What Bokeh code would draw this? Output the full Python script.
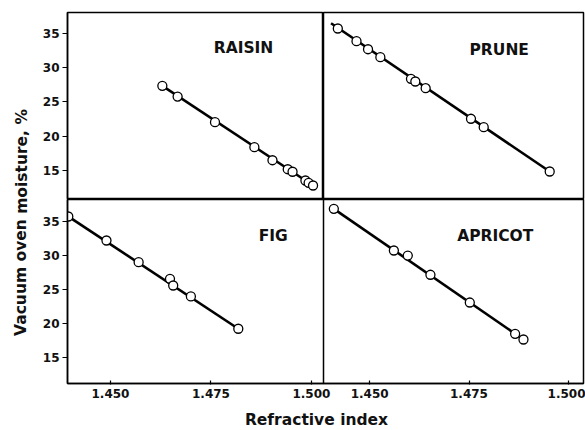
from bokeh.plotting import figure
from bokeh.layouts import row, column
from bokeh.models import Range1d, FixedTicker, NumeralTickFormatter, Label
from bokeh.embed import file_html
from bokeh.resources import INLINE

# ---------------- data ----------------
raisin_ri = [1.4629, 1.4667, 1.4760, 1.4858, 1.4903, 1.4941, 1.4953, 1.4985, 1.4993, 1.5004]
raisin_moist = [27.34, 25.78, 22.04, 18.40, 16.50, 15.19, 14.82, 13.55, 13.21, 12.82]
raisin_fit_ri = [1.4629, 1.5004]
raisin_fit_moist = [27.34, 12.82]

prune_ri = [1.4420, 1.4467, 1.4496, 1.4527, 1.4604, 1.4615, 1.4641, 1.4755, 1.4787, 1.4953]
prune_moist = [35.69, 33.84, 32.67, 31.51, 28.36, 27.97, 26.99, 22.54, 21.31, 14.86]
prune_fit_ri = [1.4403, 1.4953]
prune_fit_moist = [36.46, 14.86]

fig_ri = [1.4395, 1.4490, 1.4570, 1.4648, 1.4656, 1.4700, 1.4818]
fig_moist = [35.69, 32.16, 28.97, 26.53, 25.54, 23.93, 19.18]
fig_fit_ri = [1.4380, 1.4818]
fig_fit_moist = [36.28, 19.18]

apricot_ri = [1.4410, 1.4561, 1.4596, 1.4653, 1.4752, 1.4866, 1.4887]
apricot_moist = [36.82, 30.69, 29.95, 27.12, 23.04, 18.44, 17.60]
apricot_fit_ri = [1.4410, 1.4887]
apricot_fit_moist = [36.82, 17.60]

x_ticks = [1.450, 1.475, 1.500]
y_ticks = [15, 20, 25, 30, 35]

# panel limits
left_x = (1.4393, 1.5030)
right_x = (1.4384, 1.5038)
top_y = (10.78, 38.02)
bottom_y = (11.13, 38.19)

FONT = "DejaVu Sans"
INK = "#111111"


def style_axis(ax, is_x):
    ax.axis_line_color = "black"
    ax.axis_line_width = 1.5
    ax.major_tick_line_color = "black"
    ax.major_tick_line_width = 1.2
    ax.minor_tick_line_color = None
    ax.major_label_text_font = FONT
    ax.major_label_text_font_style = "bold"
    ax.major_label_text_font_size = "12px"
    ax.major_label_text_color = INK
    if is_x:
        ax.ticker = FixedTicker(ticks=x_ticks)
        ax.formatter = NumeralTickFormatter(format="0.000")
        ax.major_tick_in = 3
        ax.major_tick_out = 1
        ax.major_label_standoff = 4
    else:
        ax.ticker = FixedTicker(ticks=y_ticks)
        ax.major_tick_in = 0
        ax.major_tick_out = 5
        ax.major_label_standoff = 3


def panel(xlim, ylim, xs, ys, fx, fy, name, nx, ny, width, height, xaxis, yaxis,
          bl, br, bt, bb, transparent=False):
    p = figure(width=width, height=height, x_range=Range1d(*xlim), y_range=Range1d(*ylim),
               output_backend="svg", toolbar_location=None,
               x_axis_location="below" if xaxis else None,
               y_axis_location="left" if yaxis else None,
               min_border_left=bl, min_border_right=br, min_border_top=bt, min_border_bottom=bb)
    p.xgrid.visible = False
    p.ygrid.visible = False
    p.outline_line_color = "black"
    p.outline_line_width = 1.5
    p.background_fill_color = "white"
    if transparent:
        p.border_fill_alpha = 0.0
    else:
        p.border_fill_color = "white"
    if xaxis:
        style_axis(p.xaxis[0], True)
    if yaxis:
        style_axis(p.yaxis[0], False)
    p.line(fx, fy, line_color="black", line_width=2.6)
    p.scatter(xs, ys, marker="circle", size=9, fill_color="white",
              line_color="black", line_width=1.3)
    p.add_layout(Label(x=nx, y=ny, text=name, text_font=FONT, text_font_style="bold",
                       text_font_size="15.5px", text_align="center",
                       text_baseline="middle", text_color=INK))
    return p


TOP_H = 199      # 12 px border + 187 px frame
BOT_H = 204      # 184 px frame + 20 px axis
OVER = 12        # room for the "1.500" label of the left panel

p_raisin = panel(left_x, top_y, raisin_ri, raisin_moist, raisin_fit_ri, raisin_fit_moist,
                 "RAISIN", 1.4831, 32.92, 291, TOP_H, False, True, 35, 0, 12, 0)
p_prune = panel(right_x, top_y, prune_ri, prune_moist, prune_fit_ri, prune_fit_moist,
                "PRUNE", 1.4826, 32.63, 262, TOP_H, False, False, 0, 2, 12, 0)
p_fig = panel(left_x, bottom_y, fig_ri, fig_moist, fig_fit_ri, fig_fit_moist,
              "FIG", 1.4905, 32.75, 291 + OVER, BOT_H, True, True, 35, OVER, 0, 20)
p_apricot = panel(right_x, bottom_y, apricot_ri, apricot_moist, apricot_fit_ri, apricot_fit_moist,
                  "APRICOT", 1.4816, 32.75, 262, BOT_H, True, False, 0, 2, 0, 20, transparent=True)
p_apricot.margin = (0, 0, 0, -OVER)

# axis titles in their own strips (ranges in page pixels)
ylab = figure(width=32, height=430, x_range=Range1d(0, 32), y_range=Range1d(430, 0),
              output_backend="svg", toolbar_location=None,
              x_axis_location=None, y_axis_location=None,
              min_border_left=0, min_border_right=0, min_border_top=0, min_border_bottom=0)
ylab.outline_line_color = None
ylab.xgrid.visible = False
ylab.ygrid.visible = False
ylab.add_layout(Label(x=21, y=222, text="Vacuum oven moisture, %", angle=1.5707963,
                      text_font=FONT, text_font_style="bold", text_font_size="15.5px",
                      text_align="center", text_baseline="middle", text_color=INK))

xlab = figure(width=553, height=27, x_range=Range1d(32, 585), y_range=Range1d(430, 403),
              output_backend="svg", toolbar_location=None,
              x_axis_location=None, y_axis_location=None,
              min_border_left=0, min_border_right=0, min_border_top=0, min_border_bottom=0)
xlab.outline_line_color = None
xlab.xgrid.visible = False
xlab.ygrid.visible = False
xlab.add_layout(Label(x=316, y=419, text="Refractive index",
                      text_font=FONT, text_font_style="bold", text_font_size="15.5px",
                      text_align="center", text_baseline="middle", text_color=INK))

layout = row(ylab, column(row(p_raisin, p_prune), row(p_fig, p_apricot), xlab))

open("out.html", "w").write(file_html(layout, INLINE))
